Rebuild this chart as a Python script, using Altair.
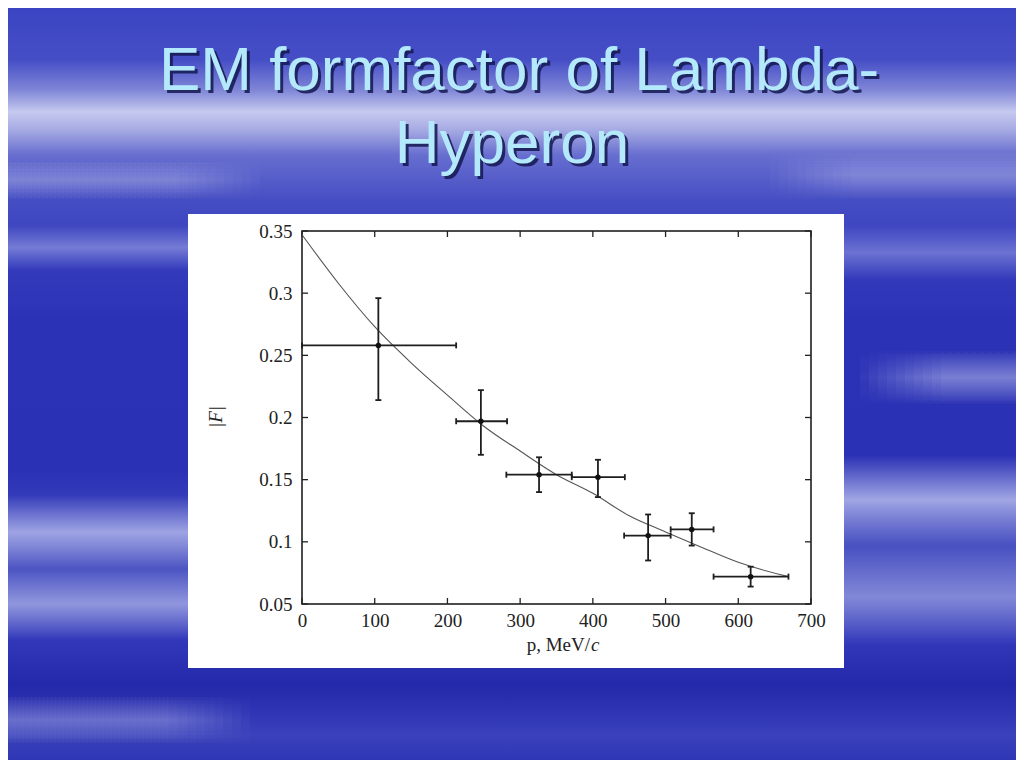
import altair as alt
import pandas as pd

# ---------------- data ----------------
p_mev = [105, 246, 326, 407, 476, 536, 617]
F_abs = [0.258, 0.197, 0.154, 0.152, 0.105, 0.110, 0.072]
p_lo = [0, 212, 281, 371, 443, 507, 566]
p_hi = [212, 282, 371, 444, 507, 566, 669]
F_lo = [0.214, 0.170, 0.140, 0.136, 0.085, 0.097, 0.064]
F_hi = [0.296, 0.222, 0.168, 0.166, 0.122, 0.123, 0.080]

curve_p = [0, 50, 100, 150, 200, 250, 300, 350, 400, 450, 500, 550, 600, 669]
curve_F = [0.347, 0.308, 0.273, 0.244, 0.218, 0.193, 0.173, 0.154, 0.139, 0.121,
           0.108, 0.0955, 0.0835, 0.072]

x_ticks = [0, 100, 200, 300, 400, 500, 600, 700]
y_ticks = [0.05, 0.1, 0.15, 0.2, 0.25, 0.3, 0.35]

title_lines = ["EM formfactor of Lambda-", "Hyperon"]
x_title_main = "p, MeV/"
x_title_ital = "c"
y_title = "|F|"

# ---------------- layout ----------------
W, H = 509, 373
PADL, PADT, PADR, PADB = 294, 223, 205, 156
OX, OY = 302, 231  # page position of plot origin


def rx(px):
    return px - OX


def ry(py):
    return py - OY


xscale = alt.Scale(domain=[0, 700], nice=False, zero=False)
yscale = alt.Scale(domain=[0.05, 0.35], nice=False, zero=False)
SERIF = "Liberation Serif"
xaxis = alt.Axis(values=x_ticks, ticks=False, domain=False, grid=False, title=None,
                 labelFont=SERIF, labelFontSize=19, labelColor="#222",
                 labelPadding=7, labelFlush=False, labelOverlap=False, zindex=2)
yaxis = alt.Axis(values=y_ticks, ticks=False, domain=False, grid=False, title=None,
                 format="~g", labelFont=SERIF, labelFontSize=19, labelColor="#222",
                 labelPadding=10, labelFlush=False, labelOverlap=False, zindex=2)


def X(f):
    return alt.X(f, type="quantitative", scale=xscale, axis=xaxis)


def Y(f):
    return alt.Y(f, type="quantitative", scale=yscale, axis=yaxis)


one = pd.DataFrame({"k": [0]})


def rect_at(x0, x1, y0, y1, fill):
    return alt.Chart(one).mark_rect(fill=fill, strokeWidth=0).encode(
        x=alt.value(rx(x0)), x2=alt.value(rx(x1)),
        y=alt.value(ry(y0)), y2=alt.value(ry(y1)))


def lin(stops):
    return alt.LinearGradient(
        gradient="linear",
        stops=[alt.GradientStop(color=c, offset=o) for o, c in stops],
        x1=0, y1=0, x2=0, y2=1)


def vfade(a, col="232,236,255"):
    return lin([(0, f"rgba({col},0)"), (0.5, f"rgba({col},{a})"),
                (1, f"rgba({col},0)")])


# background vertical gradient (page y -> offset)
bg_stops_page = [
    (8, "#3b44c2"), (60, "#464ec6"), (90, "#7f86d7"), (112, "#c6c9ef"),
    (130, "#a6aae3"), (155, "#676ecf"), (200, "#464ec4"), (250, "#363ebe"),
    (320, "#2b32b6"), (470, "#2a31b5"), (505, "#363ebb"), (545, "#4a52c2"),
    (600, "#4a52c2"), (640, "#3238ba"), (685, "#2428aa"), (715, "#3036b5"),
    (735, "#3a41bb"), (760, "#2e36b5")]
bg_stops = [((y - 8) / 752, c) for y, c in bg_stops_page]
background = rect_at(8, 1016, 8, 760, lin(bg_stops))

# soft streaks: (x0, x1, y0, y1, alpha, fade side) ; fade side stacks rects
streak_specs = [
    (8, 200, 495, 570, 0.55, None), (8, 200, 568, 640, 0.45, None),
    (830, 1016, 455, 545, 0.6, None), (830, 1016, 548, 645, 0.35, None),
    (860, 1016, 350, 405, 0.5, "left"), (8, 250, 695, 745, 0.35, "right"),
    (8, 200, 225, 270, 0.35, None), (830, 1016, 225, 280, 0.3, None),
    (8, 260, 160, 200, 0.3, "right"), (770, 1016, 150, 200, 0.3, "left"),
]
streaks = []
N_STEP, STEP = 10, 9
for x0, x1, y0, y1, a, side in streak_specs:
    if side is None:
        streaks.append(rect_at(x0, x1, y0, y1, vfade(a)))
    else:
        for i in range(N_STEP):
            if side == "left":
                streaks.append(rect_at(x0 + i * STEP, x1, y0, y1, vfade(a / N_STEP)))
            else:
                streaks.append(rect_at(x0, x1 - i * STEP, y0, y1, vfade(a / N_STEP)))

panel = rect_at(188, 844, 214, 668, "white")

title_df = pd.DataFrame({"t": title_lines,
                         "x": [rx(519), rx(512)],
                         "y": [ry(90), ry(163)]})
tshadow = alt.Chart(title_df).mark_text(
    font="Liberation Sans", fontSize=62, align="center", baseline="alphabetic",
    color="#141850", opacity=0.85, dx=3, dy=3).encode(
    text="t:N", x=alt.X("x:Q", scale=None), y=alt.Y("y:Q", scale=None))
ttext = alt.Chart(title_df).mark_text(
    font="Liberation Sans", fontSize=62, align="center", baseline="alphabetic",
    color="#b3e9fb").encode(
    text="t:N", x=alt.X("x:Q", scale=None), y=alt.Y("y:Q", scale=None))

# frame
frame_df = pd.DataFrame({"x0": [0], "x1": [700], "y0": [0.05], "y1": [0.35]})
frame = alt.Chart(frame_df).mark_rect(fill=None, stroke="#111", strokeWidth=1.5).encode(
    x=X("x0"), x2="x1", y=Y("y0"), y2="y1")

# inward ticks
TL = 6
xt = pd.DataFrame({"v": x_ticks})
yt = pd.DataFrame({"v": y_ticks})
tick_style = dict(color="#222", strokeWidth=1.3)
xt_bot = alt.Chart(xt).mark_rule(**tick_style).encode(
    x=X("v"), y=alt.value(H), y2=alt.value(H - TL))
xt_top = alt.Chart(xt).mark_rule(**tick_style).encode(
    x=X("v"), y=alt.value(0), y2=alt.value(TL))
yt_left = alt.Chart(yt).mark_rule(**tick_style).encode(
    y=Y("v"), x=alt.value(0), x2=alt.value(TL))
yt_right = alt.Chart(yt).mark_rule(**tick_style).encode(
    y=Y("v"), x=alt.value(W), x2=alt.value(W - TL))

curve_df = pd.DataFrame({"cp": curve_p, "cF": curve_F})
curve = alt.Chart(curve_df).mark_line(color="#555", strokeWidth=1.1,
                                      interpolate="monotone").encode(
    x=X("cp"), y=Y("cF"))

d = pd.DataFrame({"p": p_mev, "F": F_abs, "plo": p_lo, "phi": p_hi,
                  "Flo": F_lo, "Fhi": F_hi})
EB = dict(color="#1e1e1e", strokeWidth=1.8)
hbar = alt.Chart(d).mark_rule(**EB).encode(x=X("plo"), x2="phi", y=Y("F"))
vbar = alt.Chart(d).mark_rule(**EB).encode(x=X("p"), y=Y("Flo"), y2="Fhi")
CAP = 3
cap_l = alt.Chart(d).mark_rule(yOffset=-CAP, y2Offset=CAP, **EB).encode(
    x=X("plo"), y=Y("F"), y2="F")
cap_r = alt.Chart(d).mark_rule(yOffset=-CAP, y2Offset=CAP, **EB).encode(
    x=X("phi"), y=Y("F"), y2="F")
cap_b = alt.Chart(d).mark_rule(xOffset=-CAP, x2Offset=CAP, **EB).encode(
    y=Y("Flo"), x=X("p"), x2="p")
cap_t = alt.Chart(d).mark_rule(xOffset=-CAP, x2Offset=CAP, **EB).encode(
    y=Y("Fhi"), x=X("p"), x2="p")
pts = alt.Chart(d).mark_point(filled=True, color="#111", opacity=1, size=30,
                              shape="circle").encode(x=X("p"), y=Y("F"))

xt_main = alt.Chart(one).mark_text(text=x_title_main, font=SERIF, fontSize=19,
                                   color="#222", align="right",
                                   baseline="alphabetic").encode(
    x=alt.value(288), y=alt.value(420))
xt_ital = alt.Chart(one).mark_text(text=x_title_ital, font=SERIF, fontSize=19,
                                   fontStyle="italic", color="#222", align="left",
                                   baseline="alphabetic").encode(
    x=alt.value(289), y=alt.value(420))
yt_title = alt.Chart(one).mark_text(text=y_title, font=SERIF, fontSize=19,
                                    fontStyle="italic", color="#222", align="center",
                                    baseline="middle", angle=270).encode(
    x=alt.value(rx(216)), y=alt.value(ry(417)))

chart = alt.layer(
    background, *streaks, panel, tshadow, ttext,
    frame, xt_bot, xt_top, yt_left, yt_right,
    curve, hbar, vbar, cap_l, cap_r, cap_b, cap_t, pts,
    xt_main, xt_ital, yt_title,
).properties(
    width=W, height=H,
    autosize=alt.AutoSizeParams(type="none"),
    padding={"left": PADL, "top": PADT, "right": PADR, "bottom": PADB},
).configure(background="#2d35b8").configure_view(stroke=None)

chart.save("out.html", embed_options={"renderer": "svg", "actions": False})
